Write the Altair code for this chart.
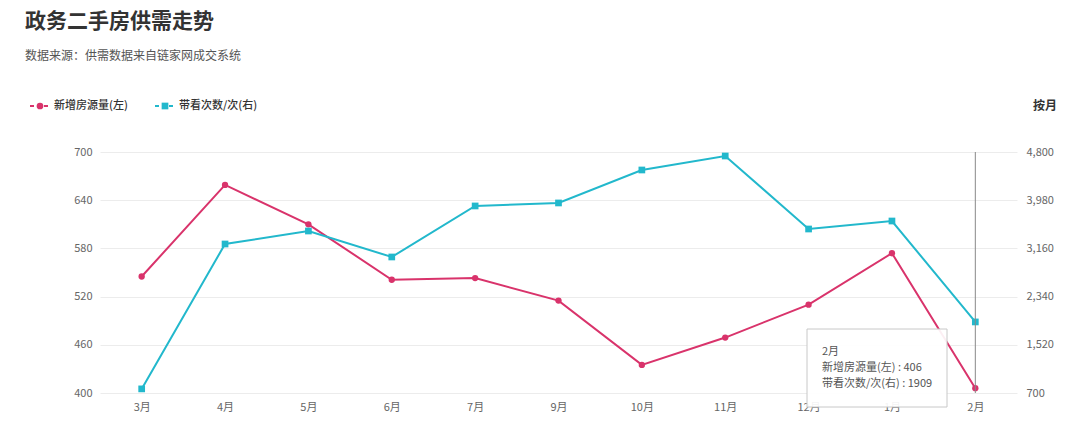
import altair as alt
import pandas as pd

months = ["3月", "4月", "5月", "6月", "7月", "9月", "10月", "11月", "12月", "1月", "2月"]
supply = [545, 659, 610, 541, 543, 515, 435, 469, 510, 574, 406]
views = [770, 3235, 3456, 3014, 3882, 3933, 4494, 4732, 3490, 3626, 1909]

left_ticks = [400, 460, 520, 580, 640, 700]
right_ticks = [700, 1520, 2340, 3160, 3980, 4800]

RED = "#d9336b"
CYAN = "#22b8cc"
FONT = "Noto Sans CJK SC"

df = pd.DataFrame({"month": months, "supply": supply, "views": views})

xenc = alt.X("month:N", sort=months, title=None,
             scale=alt.Scale(type="point", padding=0.5),
             axis=alt.Axis(labelAngle=0, ticks=False, domain=False, labelColor="#666",
                           labelFontSize=11, labelPadding=8, grid=False, labelFont=FONT))

base = alt.Chart(df)

left = base.mark_line(color=RED, strokeWidth=2, point=alt.OverlayMarkDef(color=RED, size=40, filled=True, opacity=1)).encode(
    x=xenc,
    y=alt.Y("supply:Q", title=None,
            scale=alt.Scale(domain=[400, 700], nice=False, zero=False),
            axis=alt.Axis(values=left_ticks, ticks=False, domain=False, labelColor="#666",
                          labelFontSize=11, labelPadding=8, gridColor="#ececec",
                          labelFont=FONT, format="d")),
)

right = base.mark_line(color=CYAN, strokeWidth=2, point=alt.OverlayMarkDef(color=CYAN, size=45, shape="square", filled=True, opacity=1)).encode(
    x=xenc,
    y=alt.Y("views:Q", title=None,
            scale=alt.Scale(domain=[700, 4800], nice=False, zero=False),
            axis=alt.Axis(values=right_ticks, ticks=False, domain=False, labelColor="#666",
                          labelFontSize=11, labelPadding=9, grid=False, orient="right",
                          labelFont=FONT, format=",.0f")),
)

rule = base.transform_filter(alt.datum.month == "2月").mark_rule(color="#888", strokeWidth=1).encode(
    x=xenc,
    y=alt.value(0), y2=alt.value(241),
)

box = alt.Chart(pd.DataFrame({"a": [0]})).mark_rect(fill="white", fillOpacity=0.92, stroke="#c8c8c8", strokeWidth=1).encode(
    x=alt.value(707), x2=alt.value(847), y=alt.value(177), y2=alt.value(255)
)

tip_lines = ["2月", "新增房源量(左) : 406", "带看次数/次(右) : 1909"]
tips = [
    alt.Chart(pd.DataFrame({"t": [t]})).mark_text(align="left", baseline="middle", fontSize=11, color="#555", font=FONT).encode(
        text="t:N", x=alt.value(722), y=alt.value(200 + 16 * i))
    for i, t in enumerate(tip_lines)
]

def txt(s, x, y, size, color, weight="normal", align="left"):
    return alt.Chart(pd.DataFrame({"t": [s]})).mark_text(
        align=align, baseline="middle", fontSize=size, color=color, fontWeight=weight, font=FONT
    ).encode(text="t:N", x=alt.value(x), y=alt.value(y))

title = txt("政务二手房供需走势", -75, -130, 21, "#333", "bold")
subtitle = txt("数据来源：供需数据来自链家网成交系统", -75, -96, 12, "#555")
byMonth = txt("按月", 933, -46, 12, "#333", "bold")

def legend_item(x0, color, shape, label):
    line = alt.Chart(pd.DataFrame({"a": [0]})).mark_rule(color=color, strokeWidth=2, strokeDash=[4, 3]).encode(
        x=alt.value(x0), x2=alt.value(x0 + 20), y=alt.value(-46))
    pt = alt.Chart(pd.DataFrame({"a": [0]})).mark_point(color=color, filled=True, opacity=1, shape=shape, size=45).encode(
        x=alt.value(x0 + 10), y=alt.value(-46))
    t = txt(label, x0 + 24, -46, 11, "#333", 500)
    return [line, pt, t]

legend_layers = legend_item(-70, RED, "circle", "新增房源量(左)") + legend_item(55, CYAN, "square", "带看次数/次(右)")

chart = alt.layer(left, right, rule, box, *tips, title, subtitle, byMonth, *legend_layers).resolve_scale(
    y="independent"
).properties(
    width=917, height=241,
    autosize=alt.AutoSizeParams(type="none"),
    padding={"left": 100, "top": 152, "right": 63, "bottom": 46},
    background="white",
).configure_view(stroke=None)

chart.save("out.html", embed_options={"renderer": "svg", "actions": False})
